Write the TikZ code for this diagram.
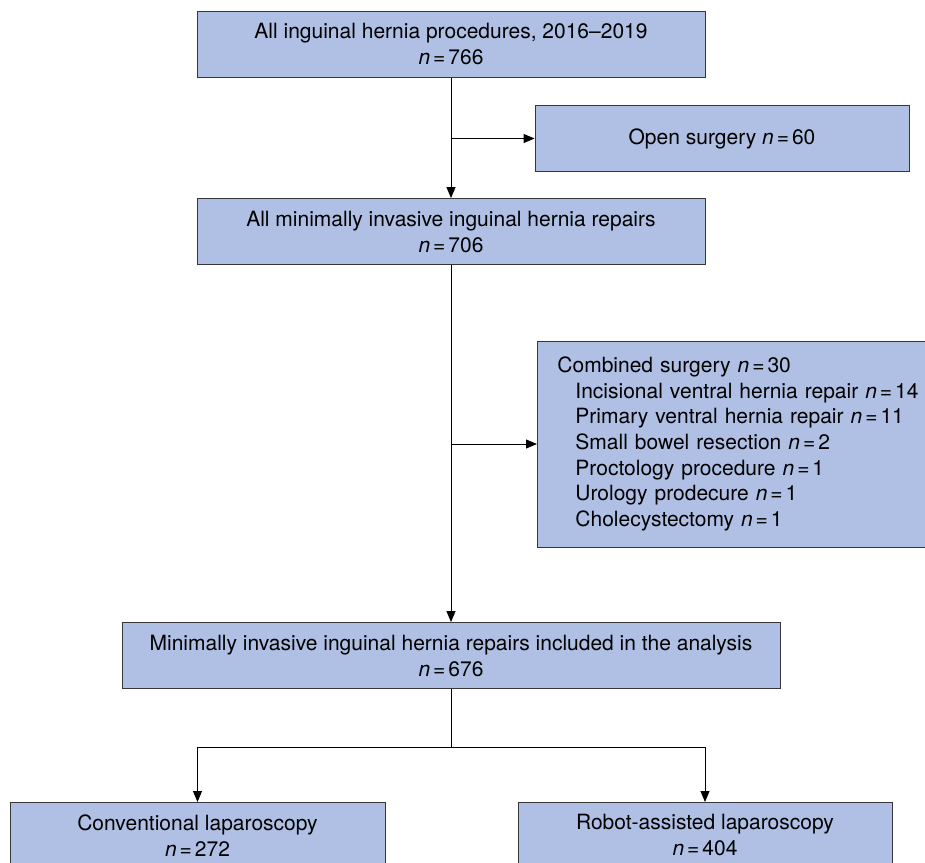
\documentclass[tikz,border=0pt]{standalone}
\usepackage{fontspec}
\setmainfont{TeX Gyre Heros}
\usetikzlibrary{arrows.meta}
\definecolor{boxblue}{RGB}{175,192,228}
\definecolor{boxline}{RGB}{55,55,55}
\newcommand{\nn}[1]{\textit{n}\kern3pt=\kern3pt#1}
\begin{document}
\begin{tikzpicture}[x=1pt, y=1pt,
    box/.style={draw=boxline, line width=0.9pt, fill=boxblue, align=center,
        inner sep=0pt, minimum height=66pt, font=\fontsize{21}{26}\selectfont},
    link/.style={line width=0.9pt, -{Triangle[length=11pt, width=9pt]}}]
    \useasboundingbox (0,0) rectangle (925,-862);
    % main column is at x = 451
    \node[box, minimum width=508pt] (all) at (451,-44.5) {All inguinal hernia procedures, 2016--2019\\ \nn{766}};
    \node[box, minimum width=374pt] (open) at (722,-138.5) {Open surgery \nn{60}};
    \node[box, minimum width=508pt] (mis) at (451,-231.5) {All minimally invasive inguinal hernia repairs\\ \nn{706}};
    \node[box, minimum width=430pt, minimum height=206pt, align=left, anchor=west,
        text width=430pt, inner sep=0pt, font=\fontsize{21}{25.6}\selectfont] (comb) at (537,-444)
        {\hspace*{20pt}Combined surgery \nn{30}\\
         \hspace*{38pt}Incisional ventral hernia repair \nn{14}\\
         \hspace*{38pt}Primary ventral hernia repair \nn{11}\\
         \hspace*{38pt}Small bowel resection \nn{2}\\
         \hspace*{38pt}Proctology procedure \nn{1}\\
         \hspace*{38pt}Urology prodecure \nn{1}\\
         \hspace*{38pt}Cholecystectomy \nn{1}};
    \node[box, minimum width=658pt] (incl) at (451,-655.5) {Minimally invasive inguinal hernia repairs included in the analysis\\ \nn{676}};
    \node[box, minimum width=375pt, anchor=north] (conv) at (197.5,-802) {Conventional laparoscopy\\ \nn{272}};
    \node[box, minimum width=374pt, anchor=north] (rob) at (705,-802) {Robot-assisted laparoscopy\\ \nn{404}};
    \coordinate (split) at (451,-747);
    \draw[link] (all) -- (mis);
    \draw[link] (all.south |- open.west) -- (open.west);
    \draw[link] (mis) -- (incl);
    \draw[link] (mis.south |- comb.west) -- (comb.west);
    \draw[line width=0.9pt] (incl) -- (split);
    \draw[link] (split) -| (conv);
    \draw[link] (split) -| (rob);
\end{tikzpicture}
\end{document}
